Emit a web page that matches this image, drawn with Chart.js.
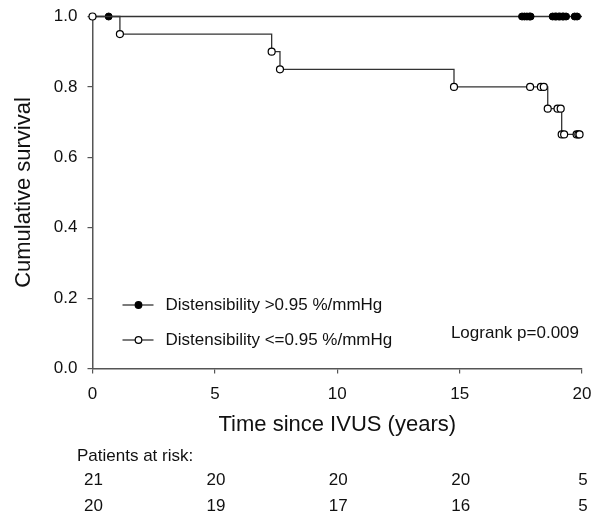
<!DOCTYPE html>
<html>
<head>
<meta charset="utf-8">
<script src="https://cdn.jsdelivr.net/npm/chart.js@4"></script>
<style>
  body { margin: 0; background: #fff; }
  #wrap { width: 596px; height: 516px; }
</style>
</head>
<body>
<div id="wrap"><canvas id="km"></canvas></div>
<script>
// Kaplan-Meier data (time in years, survival fraction)
// last entry of each group = end of follow-up (no marker)
const highTimes = [0, 0.66, 17.55, 17.65, 17.75, 17.85, 17.9, 18.8, 18.9, 18.95, 19.05, 19.1, 19.2, 19.25, 19.35, 19.7, 19.8, 20];
const highSurv  = [1, 1, 1, 1, 1, 1, 1, 1, 1, 1, 1, 1, 1, 1, 1, 1, 1, 1];

const lowTimes = [0, 1.12, 7.32, 7.66, 14.77, 17.88, 18.32, 18.44, 18.6, 19.0, 19.13, 19.17, 19.27, 19.78, 19.85, 19.9, 20];
const lowSurv  = [1, 0.95, 0.90, 0.85, 0.80, 0.80, 0.80, 0.80, 0.738, 0.738, 0.738, 0.665, 0.665, 0.665, 0.665, 0.665, 0.665];

const groupLabels = ['Distensibility >0.95 %/mmHg', 'Distensibility <=0.95 %/mmHg'];
const pValueText = 'Logrank p=0.009';

const riskTimes = [0, 5, 10, 15, 20];
const riskHigh = [21, 20, 20, 20, 5];
const riskLow  = [20, 19, 17, 16, 5];

const xTicks = [0, 5, 10, 15, 20];
const yTicks = [0, 0.2, 0.4, 0.6, 0.8, 1.0];

const FONT = '"Liberation Sans", Arial, sans-serif';
const INK = '#111';
const AXIS = '#555';
const LINE = '#333';

function toPoints(ts, ss) {
  return ts.map((t, i) => ({ x: t, y: ss[i] }));
}

// legend, p-value and number-at-risk table
const extras = {
  id: 'extras',
  afterDraw(chart) {
    const ctx = chart.ctx;
    const area = chart.chartArea;
    const xs = chart.scales.x;
    ctx.save();
    ctx.font = '17px ' + FONT;
    ctx.fillStyle = INK;
    ctx.textBaseline = 'middle';

    const rows = [305, 340];
    const fills = ['#000', '#fff'];
    rows.forEach((y, i) => {
      ctx.strokeStyle = LINE;
      ctx.lineWidth = 1.3;
      ctx.beginPath();
      ctx.moveTo(area.left + 30, y);
      ctx.lineTo(area.left + 61, y);
      ctx.stroke();
      ctx.beginPath();
      ctx.arc(area.left + 46, y, 3.3, 0, Math.PI * 2);
      ctx.fillStyle = fills[i];
      ctx.fill();
      ctx.lineWidth = 1.2;
      ctx.strokeStyle = '#000';
      ctx.stroke();
      ctx.fillStyle = INK;
      ctx.textAlign = 'left';
      ctx.fillText(groupLabels[i], area.left + 73, y);
    });

    ctx.textAlign = 'right';
    ctx.fillText(pValueText, area.right - 3, 333);

    ctx.textAlign = 'left';
    ctx.fillText('Patients at risk:', 77, 456);
    ctx.textAlign = 'center';
    riskTimes.forEach((t, i) => {
      const px = xs.getPixelForValue(t);
      ctx.fillText(String(riskHigh[i]), px + 1, 480);
      ctx.fillText(String(riskLow[i]), px + 1, 506);
    });
    ctx.restore();
  }
};

const markerRadius = (skipFirst) => (c) => {
  const n = c.dataset.data.length;
  if (c.dataIndex === n - 1) return 0;
  if (skipFirst && c.dataIndex === 0) return 0;
  return 3.5;
};

new Chart(document.getElementById('km'), {
  type: 'scatter',
  data: {
    datasets: [
      {
        label: groupLabels[1],
        data: toPoints(lowTimes, lowSurv),
        showLine: true,
        stepped: 'before',
        borderColor: LINE,
        borderWidth: 1.3,
        pointStyle: 'circle',
        pointRadius: markerRadius(false),
        pointBackgroundColor: '#fff',
        pointBorderColor: '#000',
        pointBorderWidth: 1.2,
        clip: false,
        order: 0
      },
      {
        label: groupLabels[0],
        data: toPoints(highTimes, highSurv),
        showLine: true,
        stepped: 'before',
        borderColor: LINE,
        borderWidth: 1.3,
        pointStyle: 'circle',
        pointRadius: markerRadius(true),
        pointBackgroundColor: '#000',
        pointBorderColor: '#000',
        pointBorderWidth: 1,
        clip: false,
        order: 1
      }
    ]
  },
  options: {
    responsive: true,
    maintainAspectRatio: false,
    devicePixelRatio: 1,
    animation: false,
    layout: { padding: { top: 16.5, right: 14, bottom: 77.5, left: 0 } },
    plugins: {
      legend: { display: false },
      tooltip: { enabled: false }
    },
    scales: {
      x: {
        type: 'linear',
        min: 0,
        max: 20,
        afterBuildTicks: (s) => { s.ticks = xTicks.map(v => ({ value: v })); },
        afterFit: (s) => { s.height = 70; s.paddingLeft = 0; s.paddingRight = 0; },
        ticks: {
          color: INK,
          font: { family: FONT, size: 17 },
          padding: 11,
          maxRotation: 0
        },
        grid: { drawOnChartArea: false, drawTicks: true, tickLength: 5, color: AXIS, lineWidth: 1.2 },
        border: { color: AXIS, width: 1.5 },
        title: {
          display: true,
          text: 'Time since IVUS (years)',
          color: INK,
          font: { family: FONT, size: 22 },
          padding: { top: 0, bottom: 0 }
        }
      },
      y: {
        type: 'linear',
        min: 0,
        max: 1,
        afterBuildTicks: (s) => { s.ticks = yTicks.map(v => ({ value: v })); },
        afterFit: (s) => { s.width = 92.5; s.paddingTop = 0; s.paddingBottom = 0; },
        ticks: {
          color: INK,
          font: { family: FONT, size: 17 },
          padding: 10,
          callback: (v) => Number(v).toFixed(1)
        },
        grid: { drawOnChartArea: false, drawTicks: true, tickLength: 5, color: AXIS, lineWidth: 1.2 },
        border: { color: AXIS, width: 1.5 },
        title: {
          display: true,
          text: 'Cumulative survival',
          color: INK,
          font: { family: FONT, size: 22 },
          padding: { top: 11, bottom: 0 }
        }
      }
    }
  },
  plugins: [extras]
});
</script>
</body>
</html>
